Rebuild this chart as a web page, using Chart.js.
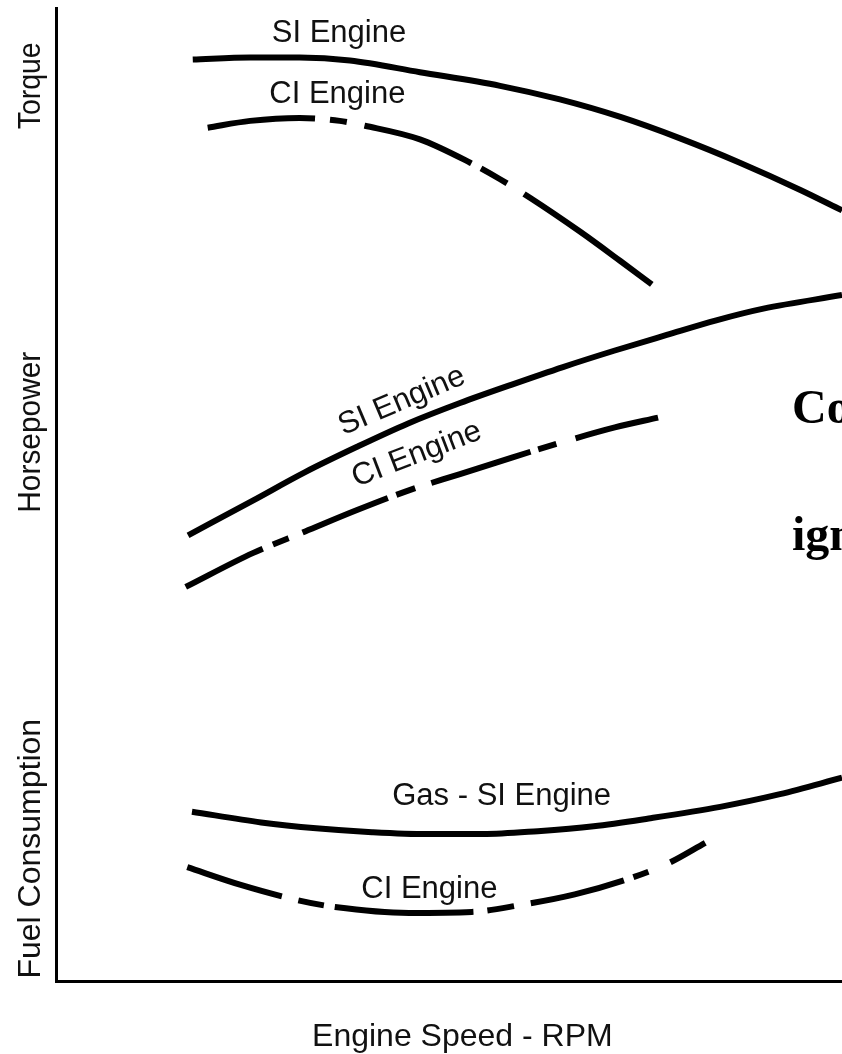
<!DOCTYPE html>
<html lang="en">
<head>
<meta charset="UTF-8">
<title>Engine performance curves</title>
<style>
  body { margin: 0; background: #fff; }
  #box { position: relative; width: 842px; height: 1054px; overflow: hidden; background: #fff; }
</style>
</head>
<body>
<div id="box"><canvas id="chart"></canvas></div>
<script src="https://cdn.jsdelivr.net/npm/chart.js"></script>
<script>
// values: x = engine speed, y = relative value (both 0-100 of the axis)
const siTorqueX = [17.4, 24.7, 31.0, 37.4, 46.3, 56.5, 64.1, 71.8, 79.4, 87.0, 94.7, 100];
const siTorqueY = [94.7, 94.9, 94.9, 94.6, 93.4, 92.0, 90.6, 88.8, 86.6, 84.1, 81.3, 79.2];

const ciTorqueX = [19.3, 24.7, 31.0, 36.1, 39.3, 46.3, 52.7, 56.5, 60.3, 66.7, 71.8, 75.8];
const ciTorqueY = [87.7, 88.4, 88.7, 88.4, 87.9, 86.5, 84.1, 82.4, 80.5, 77.0, 74.0, 71.6];

const siPowerX = [16.8, 25.1, 31.7, 38.3, 44.8, 51.4, 58.0, 64.5, 71.1, 77.7, 84.0, 90.0, 100];
const siPowerY = [45.8, 49.4, 52.3, 54.9, 57.3, 59.4, 61.3, 63.1, 64.8, 66.4, 67.9, 69.1, 70.5];

const ciPowerX = [16.5, 25.1, 31.7, 38.3, 44.8, 51.4, 58.0, 64.5, 71.1, 76.6];
const ciPowerY = [40.5, 44.0, 46.2, 48.4, 50.4, 52.1, 53.8, 55.4, 56.9, 57.9];

const siFuelX = [17.3, 26.1, 33.1, 40.2, 47.2, 54.3, 61.3, 68.4, 75.4, 84.5, 92.1, 100];
const siFuelY = [17.4, 16.3, 15.7, 15.3, 15.1, 15.1, 15.4, 15.9, 16.7, 17.9, 19.2, 20.9];

const ciFuelX = [16.7, 23.4, 30.8, 35.5, 44.9, 52.9, 59.0, 66.0, 73.2, 77.9, 82.6];
const ciFuelY = [11.7, 9.9, 8.3, 7.6, 7.0, 7.1, 7.8, 8.9, 10.6, 12.1, 14.2];

// curve labels (in axis units)
const curveLabels = [
  { text: 'SI Engine', x: 36.0, y: 96.5, angle: 0 },
  { text: 'CI Engine', x: 35.8, y: 90.2, angle: 0 },
  { text: 'SI Engine', x: 44.0, y: 59.6, angle: -23 },
  { text: 'CI Engine', x: 45.9, y: 54.1, angle: -21 },
  { text: 'Gas - SI Engine', x: 56.7, y: 18.1, angle: 0 },
  { text: 'CI Engine', x: 47.5, y: 8.5, angle: 0 }
];
const yTitles = [
  { text: 'Torque', y: 92.0, maxW: 87 },
  { text: 'Horsepower', y: 56.4, maxW: 161 },
  { text: 'Fuel Consumption', y: 13.6, maxW: 268 }
];
const xTitle = { text: 'Engine Speed - RPM', x: 51.7 };
const sideNote = ['Compression', 'ignition'];

// dash runs along each broken curve, as drawn in the figure
const ciTorqueDash = [108, 15, 17, 18, 114, 11, 30, 20, 220];
const ciPowerDash = [86, 11, 17, 15, 92, 9, 20, 17, 104, 8, 19, 20, 120];
const ciFuelDash = [99, 17, 26, 11, 139, 14, 27, 17, 96, 10, 16, 24, 60];

function pts(xs, ys) {
  return xs.map((x, i) => ({ x: x, y: ys[i] }));
}

function curve(label, xs, ys, dash) {
  return {
    label: label,
    data: pts(xs, ys),
    borderColor: '#000',
    borderWidth: 6,
    borderDash: dash || [],
    borderCapStyle: 'butt',
    pointRadius: 0,
    cubicInterpolationMode: 'monotone',
    fill: false
  };
}

const textPlugin = {
  id: 'texts',
  afterDraw(chart) {
    const ctx = chart.ctx;
    const xs = chart.scales.x, ys = chart.scales.y;
    ctx.save();
    ctx.fillStyle = '#111';
    ctx.font = '31px "Liberation Sans", Arial, sans-serif';
    ctx.textAlign = 'center';
    curveLabels.forEach(l => {
      ctx.save();
      ctx.translate(xs.getPixelForValue(l.x), ys.getPixelForValue(l.y));
      ctx.rotate(l.angle * Math.PI / 180);
      ctx.textBaseline = l.angle ? 'middle' : 'alphabetic';
      ctx.fillText(l.text, 0, 0);
      ctx.restore();
    });

    ctx.font = '32px "Liberation Sans", Arial, sans-serif';
    ctx.textBaseline = 'alphabetic';
    yTitles.forEach(t => {
      ctx.save();
      ctx.translate(40, ys.getPixelForValue(t.y));
      ctx.rotate(-Math.PI / 2);
      ctx.fillText(t.text, 0, 0, t.maxW);
      ctx.restore();
    });
    ctx.fillText(xTitle.text, xs.getPixelForValue(xTitle.x), chart.chartArea.bottom + 65, 311);

    // slide text that runs off the right edge
    ctx.fillStyle = '#000';
    ctx.textAlign = 'left';
    ctx.font = 'bold 48px "Liberation Serif", "Times New Roman", serif';
    ctx.fillText(sideNote[0], 792, 423);
    ctx.fillText(sideNote[1], 792, 550);
    ctx.restore();
  }
};

new Chart(document.getElementById('chart'), {
  type: 'line',
  data: {
    datasets: [
      curve('SI Engine torque', siTorqueX, siTorqueY),
      curve('CI Engine torque', ciTorqueX, ciTorqueY, ciTorqueDash),
      curve('SI Engine horsepower', siPowerX, siPowerY),
      curve('CI Engine horsepower', ciPowerX, ciPowerY, ciPowerDash),
      curve('Gas - SI Engine fuel', siFuelX, siFuelY),
      curve('CI Engine fuel', ciFuelX, ciFuelY, ciFuelDash)
    ]
  },
  options: {
    responsive: true,
    maintainAspectRatio: false,
    animation: false,
    layout: { padding: { top: 8, right: 0, left: 0, bottom: 0 } },
    plugins: { legend: { display: false }, tooltip: { enabled: false } },
    scales: {
      x: {
        type: 'linear', min: 0, max: 100,
        grid: { display: false },
        ticks: { display: false },
        border: { display: true, color: '#000', width: 3 },
        afterFit(s) { s.height = 73; }
      },
      y: {
        type: 'linear', min: 0, max: 100,
        grid: { display: false },
        ticks: { display: false },
        border: { display: true, color: '#000', width: 3 },
        afterFit(s) { s.width = 56; }
      }
    }
  },
  plugins: [textPlugin]
});
</script>
</body>
</html>
